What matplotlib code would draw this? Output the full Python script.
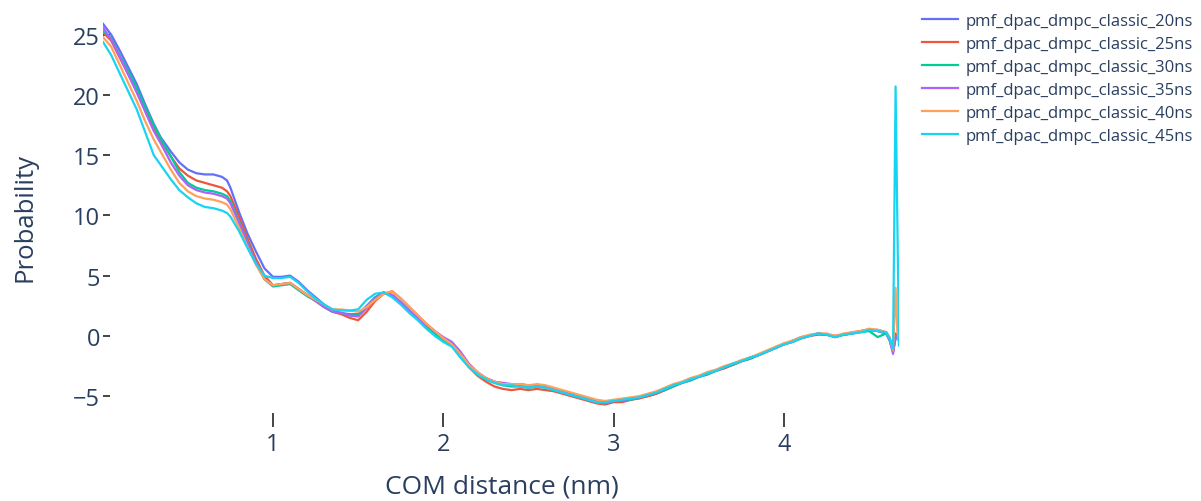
import matplotlib
matplotlib.use("Agg")
import matplotlib.pyplot as plt

# COM distance grid (nm)
com_nm = [0.002, 0.05, 0.1, 0.15, 0.2, 0.25, 0.3, 0.34, 0.4, 0.45, 0.5, 0.55, 0.6, 0.65, 0.7, 0.73,
          0.75, 0.8, 0.85, 0.9, 0.95, 1.0,
          1.05, 1.1, 1.15, 1.2, 1.25, 1.3, 1.35, 1.4, 1.45, 1.5, 1.55, 1.6, 1.65, 1.7, 1.75, 1.8, 1.85, 1.9, 1.95, 2.0,
          2.05, 2.1, 2.15, 2.2, 2.25, 2.3, 2.35, 2.4, 2.45, 2.5, 2.55, 2.6, 2.65, 2.7, 2.75, 2.8, 2.85, 2.9, 2.95, 3.0,
          3.05, 3.1, 3.15, 3.2, 3.25, 3.3, 3.35, 3.4, 3.45, 3.5, 3.55, 3.6, 3.65, 3.7, 3.75, 3.8, 3.85, 3.9, 3.95, 4.0,
          4.05, 4.1, 4.15, 4.2, 4.25, 4.3, 4.35, 4.4, 4.45, 4.5, 4.55, 4.6,
          4.62, 4.64, 4.655, 4.665, 4.675]

pmf_20ns = [25.9, 25.0, 23.7, 22.3, 20.9, 19.2, 17.6, 16.5, 15.3, 14.4, 13.8, 13.5, 13.4, 13.4, 13.2, 12.9,
            12.3, 10.3, 8.5, 7.0, 5.6, 4.9,
            4.9, 5.0, 4.5, 3.8, 3.2, 2.6, 2.1, 1.9, 1.8, 1.8, 2.5, 3.2, 3.6, 3.3, 2.7, 2.0, 1.4, 0.8, 0.2, -0.3,
            -0.7, -1.5, -2.4, -3.1, -3.5, -3.8, -4.0, -4.0, -4.1, -4.2, -4.1, -4.2, -4.4, -4.6, -4.8, -5.0, -5.2, -5.4, -5.5, -5.4,
            -5.4, -5.3, -5.1, -5.0, -4.8, -4.5, -4.1, -3.9, -3.7, -3.4, -3.2, -2.9, -2.6, -2.4, -2.1, -1.9, -1.6, -1.3, -1.0, -0.7,
            -0.4, -0.1, 0.0, 0.2, 0.1, -0.1, 0.1, 0.2, 0.4, 0.5, 0.4, 0.2,
            -0.3, -1.3, -0.2, 0.0, -0.3]

pmf_25ns = [25.2, 24.5, 23.1, 21.7, 20.3, 18.7, 17.2, 16.2, 14.9, 13.9, 13.3, 12.9, 12.7, 12.5, 12.3, 12.0,
            11.6, 9.9, 8.1, 6.4, 5.0, 4.2,
            4.3, 4.4, 3.9, 3.4, 2.9, 2.4, 2.0, 1.8, 1.5, 1.3, 2.0, 2.9, 3.5, 3.7, 3.1, 2.4, 1.7, 1.0, 0.4, -0.3,
            -0.8, -1.7, -2.6, -3.3, -3.8, -4.2, -4.4, -4.5, -4.4, -4.5, -4.4, -4.5, -4.6, -4.8, -5.0, -5.2, -5.4, -5.6, -5.7, -5.5,
            -5.5, -5.3, -5.2, -5.0, -4.8, -4.5, -4.2, -3.9, -3.6, -3.4, -3.1, -2.9, -2.7, -2.4, -2.1, -1.8, -1.6, -1.3, -1.0, -0.7,
            -0.5, -0.2, 0.0, 0.1, 0.1, 0.0, 0.1, 0.3, 0.4, 0.5, 0.5, 0.3,
            -0.2, -1.2, 0.2, -0.1, -0.4]

pmf_30ns = [25.3, 24.7, 23.3, 22.0, 20.6, 19.0, 17.5, 16.4, 14.9, 13.6, 12.7, 12.3, 12.1, 12.0, 11.8, 11.6,
            11.2, 9.5, 7.8, 6.1, 4.7, 4.1,
            4.2, 4.3, 3.8, 3.3, 2.9, 2.4, 2.0, 1.9, 1.7, 1.7, 2.4, 3.2, 3.6, 3.4, 2.8, 2.1, 1.4, 0.8, 0.2, -0.4,
            -0.8, -1.6, -2.5, -3.2, -3.6, -3.9, -4.1, -4.2, -4.2, -4.3, -4.2, -4.3, -4.5, -4.7, -4.9, -5.1, -5.3, -5.5, -5.6, -5.4,
            -5.3, -5.3, -5.1, -4.9, -4.7, -4.5, -4.2, -3.9, -3.7, -3.4, -3.2, -2.9, -2.6, -2.4, -2.1, -1.9, -1.6, -1.3, -1.0, -0.7,
            -0.5, -0.2, 0.0, 0.2, 0.1, -0.1, 0.1, 0.2, 0.3, 0.4, -0.1, 0.2,
            -0.4, -1.3, -0.1, 0.0, -0.2]

pmf_35ns = [25.6, 24.6, 23.2, 21.7, 20.2, 18.6, 17.0, 16.0, 14.4, 13.3, 12.5, 12.1, 11.9, 11.8, 11.6, 11.4,
            11.0, 9.4, 7.7, 6.1, 4.7, 4.2,
            4.3, 4.4, 3.9, 3.4, 2.9, 2.4, 2.0, 1.9, 1.7, 1.6, 2.3, 3.1, 3.6, 3.4, 2.8, 2.1, 1.5, 0.9, 0.4, -0.1,
            -0.5, -1.3, -2.3, -3.0, -3.5, -3.8, -3.9, -4.0, -4.0, -4.1, -4.1, -4.2, -4.4, -4.7, -4.9, -5.1, -5.3, -5.5, -5.6, -5.4,
            -5.4, -5.2, -5.1, -4.9, -4.7, -4.4, -4.1, -3.9, -3.6, -3.4, -3.1, -2.9, -2.6, -2.3, -2.1, -1.8, -1.6, -1.3, -1.0, -0.7,
            -0.4, -0.2, 0.0, 0.2, 0.1, 0.0, 0.1, 0.2, 0.4, 0.5, 0.4, 0.2,
            -0.3, -1.5, 0.0, -0.1, -0.3]

pmf_40ns = [24.8, 24.0, 22.5, 21.0, 19.5, 17.8, 16.3, 15.3, 13.8, 12.7, 12.0, 11.6, 11.4, 11.3, 11.1, 10.9,
            10.5, 9.0, 7.4, 5.9, 4.7, 4.2,
            4.3, 4.4, 3.9, 3.4, 3.0, 2.6, 2.2, 2.2, 2.1, 2.0, 2.4, 3.0, 3.5, 3.7, 3.1, 2.4, 1.7, 1.0, 0.4, -0.2,
            -0.7, -1.5, -2.4, -3.0, -3.5, -3.8, -4.0, -4.0, -4.0, -4.1, -4.0, -4.1, -4.3, -4.5, -4.7, -4.9, -5.1, -5.3, -5.4, -5.3,
            -5.2, -5.1, -5.0, -4.8, -4.6, -4.3, -4.0, -3.8, -3.5, -3.3, -3.0, -2.8, -2.5, -2.3, -2.0, -1.8, -1.5, -1.2, -0.9, -0.6,
            -0.4, -0.1, 0.1, 0.2, 0.2, 0.0, 0.2, 0.3, 0.4, 0.6, 0.5, 0.3,
            -0.1, -1.2, 4.0, 0.4, -0.5]

pmf_45ns = [24.4, 23.3, 21.8, 20.3, 18.8, 16.9, 15.0, 14.2, 13.0, 12.1, 11.5, 11.0, 10.7, 10.6, 10.4, 10.2,
            9.9, 8.7, 7.3, 6.0, 5.0, 4.8,
            4.8, 4.9, 4.4, 3.7, 3.1, 2.6, 2.2, 2.1, 2.1, 2.2, 3.0, 3.5, 3.6, 3.2, 2.6, 1.9, 1.3, 0.6, 0.0, -0.5,
            -0.9, -1.8, -2.6, -3.2, -3.6, -3.9, -4.1, -4.1, -4.2, -4.3, -4.2, -4.3, -4.5, -4.7, -4.9, -5.1, -5.3, -5.5, -5.5, -5.4,
            -5.3, -5.2, -5.1, -4.9, -4.7, -4.4, -4.1, -3.9, -3.6, -3.4, -3.1, -2.9, -2.6, -2.3, -2.1, -1.8, -1.6, -1.3, -1.0, -0.7,
            -0.5, -0.2, 0.0, 0.2, 0.1, -0.1, 0.1, 0.2, 0.3, 0.5, 0.4, 0.3,
            -0.2, -1.1, 20.7, 9.8, -0.8]

series = [
    ("pmf_dpac_dmpc_classic_20ns", pmf_20ns, "#636EFA"),
    ("pmf_dpac_dmpc_classic_25ns", pmf_25ns, "#EF553B"),
    ("pmf_dpac_dmpc_classic_30ns", pmf_30ns, "#00CC96"),
    ("pmf_dpac_dmpc_classic_35ns", pmf_35ns, "#AB63FA"),
    ("pmf_dpac_dmpc_classic_40ns", pmf_40ns, "#FFA15A"),
    ("pmf_dpac_dmpc_classic_45ns", pmf_45ns, "#19D3F3"),
]
x_ticks = [1, 2, 3, 4]
y_ticks = [-5, 0, 5, 10, 15, 20, 25]

text_color = "#2a3f5f"
plt.rcParams["font.family"] = ["Open Sans", "DejaVu Sans"]

W, H = 1201, 502
fig = plt.figure(figsize=(W / 100, H / 100), dpi=100)
ax = fig.add_axes([103 / W, 1 - 414 / H, (899 - 103) / W, (414 - 20) / H])

for name, vals, col in series:
    ax.plot(com_nm, vals, color=col, lw=1.6, label=name)

ax.set_xlim(0.002, 4.675)
ax.set_ylim(-6.4, 26.3)
ax.set_xticks(x_ticks)
ax.set_yticks(y_ticks)
for s in ax.spines.values():
    s.set_visible(False)
ax.tick_params(axis="x", direction="out", length=10, width=1.4, color="#444444",
               labelsize=17, labelcolor=text_color, pad=4)
ax.tick_params(axis="y", direction="in", length=5, width=1.4, color="#444444",
               labelsize=17, labelcolor=text_color, pad=2)

fig.text(502 / W, 1 - 487 / H, "COM distance (nm)", ha="center", va="center",
         fontsize=19, color=text_color)
fig.text(25 / W, 1 - 217 / H, "Probability", ha="center", va="center",
         rotation=90, fontsize=18.5, color=text_color)

fig.legend(loc="upper left", bbox_to_anchor=(922 / W, 1 - 14 / H), frameon=False,
           fontsize=12, labelcolor=text_color, handlelength=2.16, handletextpad=0.48,
           labelspacing=0.42, borderpad=0, borderaxespad=0)

fig.savefig("out.png", dpi=100, facecolor="white")
